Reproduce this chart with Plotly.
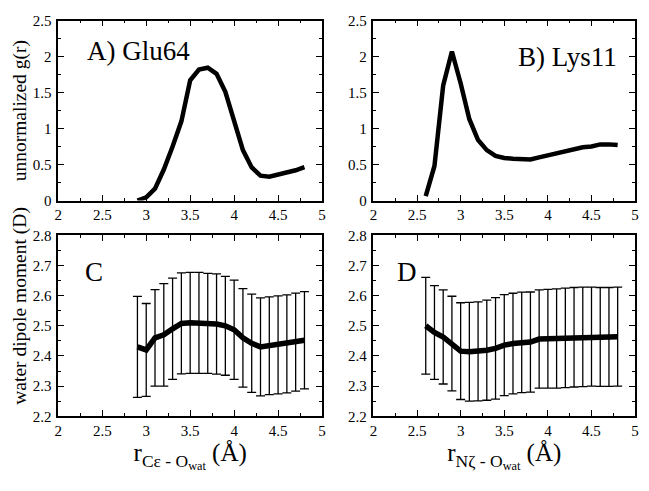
import plotly.graph_objects as go

# ---------------- data ----------------
r_glu = [2.9, 3.0, 3.1, 3.2, 3.3, 3.4, 3.5, 3.6, 3.7, 3.8, 3.9, 4.0, 4.1, 4.2, 4.3, 4.4, 4.5, 4.6, 4.7, 4.8]
g_glu = [0.0, 0.045, 0.165, 0.43, 0.75, 1.1, 1.67, 1.82, 1.845, 1.76, 1.51, 1.1, 0.70, 0.46, 0.345, 0.33, 0.36, 0.38, 0.42, 0.465]

r_lys = [2.6, 2.7, 2.8, 2.9, 3.0, 3.1, 3.2, 3.3, 3.4, 3.5, 3.6, 3.7, 3.8, 3.9, 4.0, 4.1, 4.2, 4.3, 4.4, 4.5, 4.6, 4.7, 4.8]
g_lys = [0.06, 0.48, 1.6, 2.07, 1.63, 1.13, 0.84, 0.70, 0.62, 0.59, 0.58, 0.58, 0.57, 0.60, 0.63, 0.66, 0.69, 0.72, 0.74, 0.75, 0.78, 0.78, 0.77]

dip_glu = [2.43, 2.42, 2.46, 2.47, 2.49, 2.508, 2.51, 2.51, 2.508, 2.506, 2.50, 2.487, 2.46, 2.442, 2.43, 2.434, 2.437, 2.44, 2.446, 2.452]
err_glu = [0.1675, 0.154, 0.16, 0.17, 0.168, 0.1675, 0.1675, 0.1675, 0.166, 0.166, 0.164, 0.1645, 0.1635, 0.163, 0.1625, 0.162, 0.1625, 0.1625, 0.1625, 0.1615]

dip_lys = [2.50, 2.478, 2.463, 2.441, 2.416, 2.414, 2.415, 2.419, 2.425, 2.436, 2.441, 2.445, 2.446, 2.456, 2.457, 2.458, 2.46, 2.462, 2.463, 2.464, 2.463, 2.463, 2.464]
err_lys = [0.1605, 0.1555, 0.156, 0.157, 0.1605, 0.164, 0.164, 0.166, 0.1685, 0.1675, 0.167, 0.1665, 0.166, 0.163, 0.164, 0.1645, 0.165, 0.165, 0.165, 0.164, 0.164, 0.164, 0.164]

panel_labels = ["A) Glu64", "B) Lys11", "C", "D"]
ylabel_top = "unnormalized g(r)"
ylabel_bottom = "water dipole moment (D)"
xlabel_left = "r<sub>Cε - O<sub>wat</sub></sub> (Å)"
xlabel_right = "r<sub>Nζ - O<sub>wat</sub></sub> (Å)"
xtick_vals = [2, 2.5, 3, 3.5, 4, 4.5, 5]
xtick_text = ["2", "2.5", "3", "3.5", "4", "4.5", "5"]

FONT = "Liberation Serif, Times New Roman, serif"

fig = go.Figure()

fig.add_trace(go.Scatter(x=r_glu, y=g_glu, mode="lines", line=dict(color="black", width=4.5),
                         xaxis="x", yaxis="y", showlegend=False))
fig.add_trace(go.Scatter(x=r_lys, y=g_lys, mode="lines", line=dict(color="black", width=4.5),
                         xaxis="x2", yaxis="y2", showlegend=False))
fig.add_trace(go.Scatter(x=r_glu, y=dip_glu, mode="lines", line=dict(color="black", width=5.5),
                         error_y=dict(type="data", array=err_glu, visible=True, color="black",
                                      thickness=1.3, width=4.5),
                         xaxis="x3", yaxis="y3", showlegend=False))
fig.add_trace(go.Scatter(x=r_lys, y=dip_lys, mode="lines", line=dict(color="black", width=5.5),
                         error_y=dict(type="data", array=err_lys, visible=True, color="black",
                                      thickness=1.3, width=4.5),
                         xaxis="x4", yaxis="y4", showlegend=False))

W, H = 649, 491
xl = [55 / W, 322 / W]
xr = [374 / W, 639 / W]
yt = [(H - 199) / H, (H - 13) / H]
yb = [(H - 422) / H, (H - 235) / H]

tickfont = dict(family=FONT, size=15, color="black")


def xaxis(domain, anchor, title=None):
    d = dict(domain=domain, anchor=anchor, range=[2, 5], tickvals=xtick_vals, ticktext=xtick_text,
             ticks="inside", ticklen=6, tickwidth=1.3, tickcolor="black",
             minor=dict(dtick=0.25, tick0=2, ticks="inside", ticklen=3, tickwidth=1.3, tickcolor="black"),
             showline=True, linecolor="black", linewidth=1.5, mirror="allticks",
             showgrid=False, zeroline=False, tickfont=tickfont)
    if title:
        d["title"] = dict(text=title, font=dict(family=FONT, size=25, color="black"), standoff=6)
    return d


def yaxis(domain, anchor, rng, dtick, minor):
    return dict(domain=domain, anchor=anchor, range=rng, dtick=dtick, tick0=rng[0],
                ticks="inside", ticklen=6, tickwidth=1.3, tickcolor="black",
                minor=dict(dtick=minor, tick0=rng[0], ticks="inside", ticklen=3, tickwidth=1.3, tickcolor="black"),
                showline=True, linecolor="black", linewidth=1.5, mirror="allticks",
                showgrid=False, zeroline=False, tickfont=tickfont, ticklabelstandoff=2)


fig.update_layout(
    width=W, height=H,
    margin=dict(l=0, r=0, t=0, b=0),
    paper_bgcolor="white", plot_bgcolor="white",
    font=dict(family=FONT, color="black"),
    xaxis=xaxis(xl, "y"),
    yaxis=yaxis(yt, "x", [0, 2.5], 0.5, 0.25),
    xaxis2=xaxis(xr, "y2"),
    yaxis2=yaxis(yt, "x2", [0, 2.5], 0.5, 0.25),
    xaxis3=xaxis(xl, "y3", xlabel_left),
    yaxis3=yaxis(yb, "x3", [2.2, 2.8], 0.1, 0.05),
    xaxis4=xaxis(xr, "y4", xlabel_right),
    yaxis4=yaxis(yb, "x4", [2.2, 2.8], 0.1, 0.05),
)

# y-axis titles placed as rotated annotations
ytitle_font = dict(family=FONT, size=19.5, color="black")
fig.add_annotation(text=ylabel_top, xref="paper", yref="paper", x=16 / W, y=(H - 106) / H,
                   xanchor="center", yanchor="middle", textangle=-90, showarrow=False, font=ytitle_font)
fig.add_annotation(text=ylabel_bottom, xref="paper", yref="paper", x=16 / W, y=(H - 308) / H,
                   xanchor="center", yanchor="middle", textangle=-90, showarrow=False, font=ytitle_font)

labfont = dict(family=FONT, size=27, color="black")
fig.add_annotation(text=panel_labels[0], xref="x domain", yref="y domain", x=0.1, y=0.83,
                   xanchor="left", yanchor="middle", showarrow=False, font=labfont)
fig.add_annotation(text=panel_labels[1], xref="x2 domain", yref="y2 domain", x=0.94, y=0.8,
                   xanchor="right", yanchor="middle", showarrow=False, font=labfont)
fig.add_annotation(text=panel_labels[2], xref="x3 domain", yref="y3 domain", x=0.095, y=0.8,
                   xanchor="left", yanchor="middle", showarrow=False, font=labfont)
fig.add_annotation(text=panel_labels[3], xref="x4 domain", yref="y4 domain", x=0.083, y=0.795,
                   xanchor="left", yanchor="middle", showarrow=False, font=labfont)

fig.write_html("out.html", config={"displayModeBar": False},
               post_script="document.body.style.margin='0';")
